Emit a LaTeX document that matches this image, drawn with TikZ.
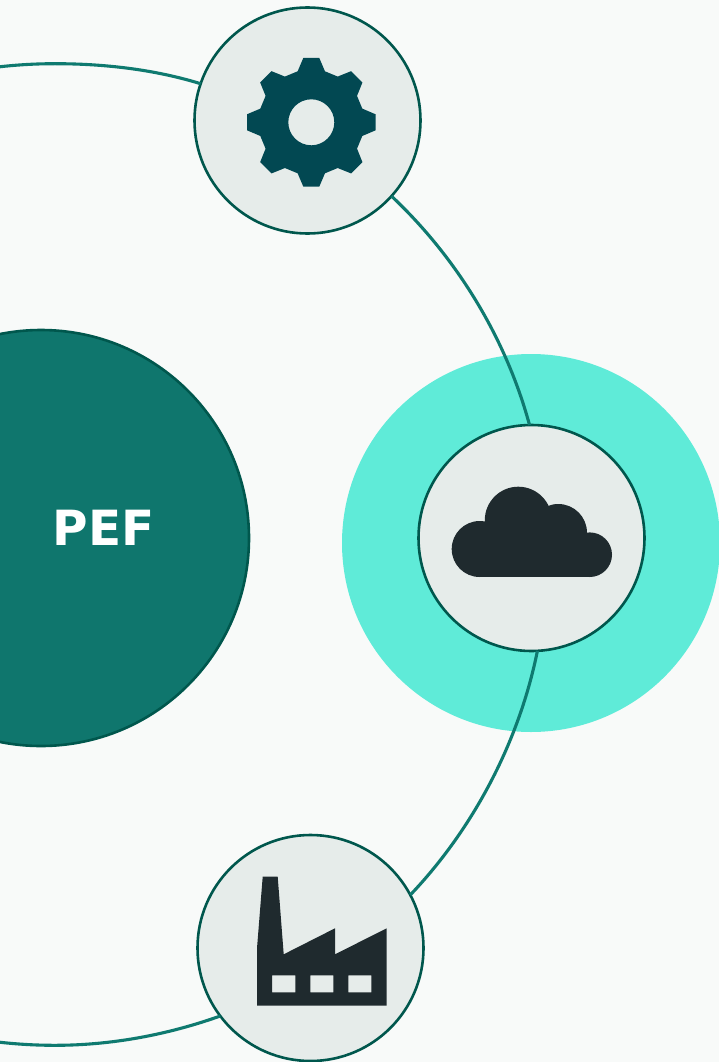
\documentclass[tikz,border=0pt]{standalone}
\usepackage{fontspec}
\setmainfont{DejaVu Sans}
\definecolor{pagebg}{HTML}{F8FAF9}
\definecolor{pefgreen}{HTML}{0F766D}
\definecolor{edgegreen}{HTML}{00574D}
\definecolor{ringgreen}{HTML}{0F7A70}
\definecolor{halomint}{HTML}{5FEBD8}
\definecolor{hubfill}{HTML}{E6ECEA}
\definecolor{gearblue}{HTML}{024852}
\definecolor{icondark}{HTML}{1F2A2E}
\begin{document}
\begin{tikzpicture}
[   x=1pt,y=-1pt,
    hubnode/.style={draw=edgegreen,fill=hubfill,line width=2.6pt,circle,minimum size=226pt,inner sep=0pt,outer sep=0pt},
    ringline/.style={draw=ringgreen,line width=3.1pt},
]
    \clip (0,0) rectangle (719,1062);
    \fill[pagebg] (0,0) rectangle (719,1062);

%%%%%%%%%%%%%%%%%%%% PEF %%%%%%%%%%%%%%%%%%%%%%%%%%%%%%%%%%%
    \node[circle,draw=edgegreen,fill=pefgreen,line width=2.6pt,minimum size=416pt,inner sep=0pt,outer sep=0pt] (pef) at (41,538) {};
    \node[text=white,font=\bfseries\fontsize{48.5}{48.5}\selectfont] (peflabel) at (103.5,528) {PEF};

%%%%%%%%%%%%%%%%%%%% Hubs %%%%%%%%%%%%%%%%%%%%%%%%%%%%%%%%%%%
    \node[circle,fill=halomint,minimum size=378pt,inner sep=0pt,outer sep=0pt] (halo) at (531,543) {};
    \node[hubnode] (gear) at (307.5,120.5) {};
    \node[hubnode] (cloud) at (531.5,538) {};
    \node[hubnode] (factory) at (310.5,948) {};
    \coordinate (ringtop) at (55,63.7);
    \coordinate (ringleft) at (-435.8,554.5);
    \coordinate (ringbottom) at (55,1045.3);

%%%%%%%%%%%%%%%%%%%% Connectors %%%%%%%%%%%%%%%%%%%%%%%%%%%%%%%%%%%
    \draw[ringline] (gear.-42.5) .. controls +(43.3:90) and +(-105.2:90) .. (cloud.91.5);
    \draw[ringline] (cloud.-87) .. controls +(101.4:92) and +(-46.4:92) .. (factory.28.7);
    \draw[ringline] (gear.161.9) .. controls +(-162.9:48.9) and +(48.9,0) .. (ringtop)
        .. controls +(-271,0) and +(0,-271) .. (ringleft)
        .. controls +(0,271) and +(-271,0) .. (ringbottom)
        .. controls +(56.2,0) and +(-199.6:56.2) .. (factory.217.7);

%%%%%%%%%%%%%%%%%%%% Icons %%%%%%%%%%%%%%%%%%%%%%%%%%%%%%%%%%%
    \begin{scope}[shift={(311.3,122.3)}]
        \fill[gearblue,even odd rule] (-15:52.8)
            \foreach \a in {0,45,...,315}
            { -- (\a-15:52.8) -- (\a-7.1:64.8) -- (\a+7.1:64.8) -- (\a+15:52.8) -- (\a+30:52.8) }
            -- cycle (0,0) circle (23);
    \end{scope}

    \fill[icondark] (479.7,549) circle (28);
    \fill[icondark] (518.3,520.2) circle (33.5);
    \fill[icondark] (558.3,532.7) circle (28.7);
    \fill[icondark] (589.7,554.7) circle (22.3);
    \fill[icondark] (479.7,533) rectangle (589.7,577);

    \fill[icondark,even odd rule] (262.7,876.7) -- (277.7,876.7) -- (283.7,954.3) -- (335,928.3) -- (335,954.3)
        -- (386.7,928.3) -- (386.7,1005.7) -- (257,1005.7) -- (257,948.3) -- cycle
        (272,975.3) rectangle (295.3,992.3)
        (310.3,975.3) rectangle (333.3,992.3)
        (348.3,975.3) rectangle (371.3,992.3);

\end{tikzpicture}
\end{document}
